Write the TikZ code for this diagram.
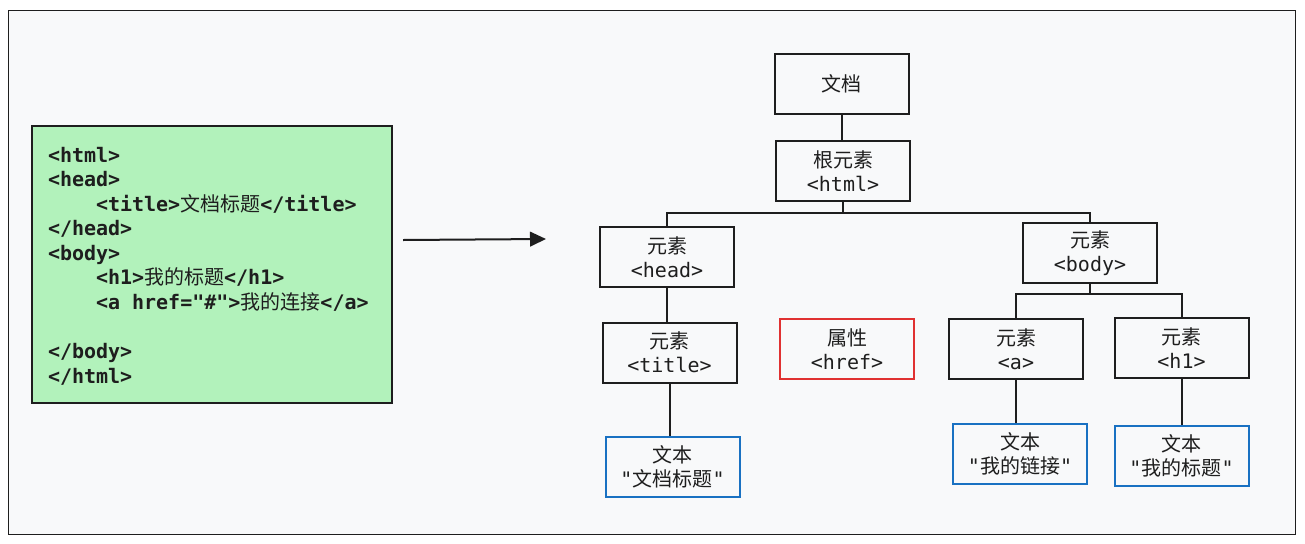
\documentclass[tikz,border=0pt]{standalone}
\usepackage{fontspec}
\setmainfont{Noto Sans CJK SC}
\setmonofont{DejaVu Sans Mono}
\usetikzlibrary{arrows.meta}
\definecolor{ink}{HTML}{1E1E1E}
\definecolor{paper}{HTML}{F8F9FA}
\definecolor{mint}{HTML}{B2F2BB}
\definecolor{blueline}{HTML}{1971C2}
\definecolor{redline}{HTML}{E03131}
\newcommand{\mono}[1]{{\ttfamily #1}}
\newcommand{\monob}[1]{{\ttfamily\bfseries #1}}

\begin{document}
\begin{tikzpicture}[x=0.75pt,y=-0.75pt,line width=1.5pt,
    box/.style={draw=ink,fill=paper,minimum width=100.5pt,minimum height=45pt,
      inner sep=0pt,align=center,text=ink,font=\fontsize{15}{18}\selectfont},
    textbox/.style={box,draw=blueline},
    attrbox/.style={box,draw=redline},
    codebox/.style={draw=ink,line width=1pt,fill=mint,minimum width=270pt,minimum height=207.75pt,inner sep=0pt},
    codeline/.style={anchor=base west,inner sep=0pt,text=ink,font=\fontsize{15}{18}\selectfont},
    link/.style={draw=ink}]
            \fill[white] (0,0) rectangle (1305,543);
            \draw[ink,line width=0.75pt,fill=paper] (8,10) rectangle (1295,534);

            % source code
            \node[codebox] (code) at (212,264.5) {};
            \node[codeline] (ln1) at (47,162) {\monob{<html>}};
            \node[codeline] (ln2) at (47,186.5) {\monob{<head>}};
            \node[codeline] (ln3) at (95,211) {\monob{<title>}文档标题\monob{</title>}};
            \node[codeline] (ln4) at (47,235.5) {\monob{</head>}};
            \node[codeline] (ln5) at (47,260) {\monob{<body>}};
            \node[codeline] (ln6) at (95,284.5) {\monob{<h1>}我的标题\monob{</h1>}};
            \node[codeline] (ln7) at (95,309) {\monob{<a href="\#">}我的连接\monob{</a>}};
            \node[codeline] (ln8) at (47,358.5) {\monob{</body>}};
            \node[codeline] (ln9) at (47,383) {\monob{</html>}};

            \coordinate (arrS) at (403,240);
            \coordinate (arrE) at (546,239);
            \draw[link,-{Triangle[length=12pt,width=11pt]}] (arrS) -- (arrE);

            % tree
            \node[box] (doc) at (841.5,83.5) {文档};
            \node[box] (html) at (843,171) {根元素\\\mono{<html>}};
            \node[box] (head) at (667,257) {元素\\\mono{<head>}};
            \node[box] (title) at (669.5,352.5) {元素\\\mono{<title>}};
            \node[textbox] (txttitle) at (672.5,467) {文本\\\mono{"}文档标题\mono{"}};
            \node[attrbox] (href) at (847,349) {属性\\\mono{<href>}};
            \node[box] (body) at (1090,253) {元素\\\mono{<body>}};
            \node[box] (a) at (1016,349) {元素\\\mono{<a>}};
            \node[box] (h1) at (1181.5,348) {元素\\\mono{<h1>}};
            \node[textbox] (txta) at (1020,454) {文本\\\mono{"}我的链接\mono{"}};
            \node[textbox] (txth1) at (1181.5,456) {文本\\\mono{"}我的标题\mono{"}};

            \draw[link] (doc.south) -- (doc.south |- html.north);
            \draw[link] (html.south) -- ++(0,11) -| (head.north);
            \draw[link] (html.south) -- ++(0,11) -| (body.north);
            \draw[link] (head.south) -- (head.south |- title.north);
            \draw[link] (title.south) -- (title.south |- txttitle.north);
            \draw[link] (body.south) -- ++(0,10) -| (a.north);
            \draw[link] (body.south) -- ++(0,10) -| (h1.north);
            \draw[link] (a.south) -- (a.south |- txta.north);
            \draw[link] (h1.south) -- (h1.south |- txth1.north);
        \end{tikzpicture}
\end{document}
